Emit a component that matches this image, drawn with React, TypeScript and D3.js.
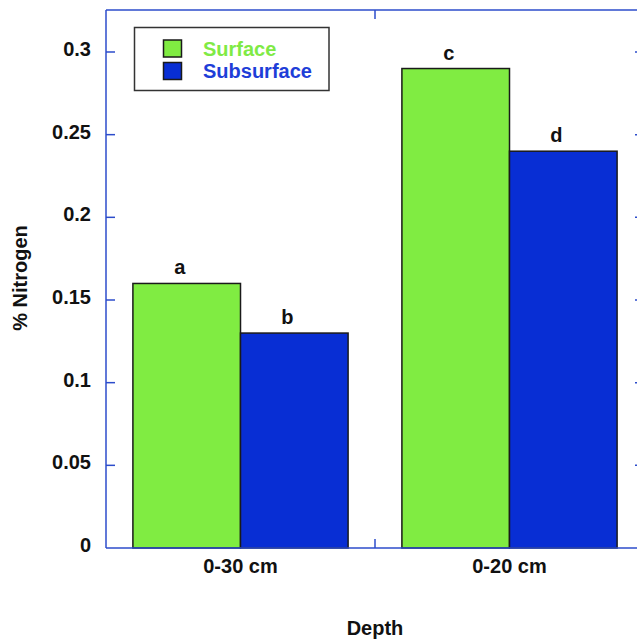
import React from "react";
import * as d3 from "d3";

const categories = ["0-30 cm", "0-20 cm"];
const seriesNames = ["Surface", "Subsurface"];
const surfaceValues = [0.16, 0.29];
const subsurfaceValues = [0.13, 0.24];
const barLetters = [["a", "c"], ["b", "d"]];
const yTicks = [0, 0.05, 0.1, 0.15, 0.2, 0.25, 0.3];
const yTickLabels = ["0", "0.05", "0.1", "0.15", "0.2", "0.25", "0.3"];

const W = 637;
const H = 641;
const margin = { left: 106, top: 10, right: 644, bottom: 548 };
const fills = ["#80EC42", "#082ED4"];
const textFills = ["#7FEA45", "#1E3ED8"];
const axisColor = "#2C4CCB";
const font = "'Liberation Sans', Arial, Helvetica, sans-serif";

export default function App() {
  const series = [surfaceValues, subsurfaceValues];
  const x0 = d3.scaleBand<string>().domain(categories).range([margin.left, margin.right]).paddingInner(0).paddingOuter(0);
  const x1 = d3.scaleBand<string>().domain(seriesNames).range([0, x0.bandwidth()]).paddingOuter(0.25).paddingInner(0);
  const y = d3.scaleLinear().domain([0, 0.3254]).range([margin.bottom, margin.top]);
  const tickLen = 9;

  return (
    <svg width={W} height={H} style={{ position: "absolute", left: 0, top: 0 }} fontFamily={font}>
      {/* bars */}
      {categories.map((cat, ci) =>
        seriesNames.map((s, si) => {
          const v = series[si][ci];
          const bx = (x0(cat) as number) + (x1(s) as number);
          const bw = x1.bandwidth();
          return (
            <g key={cat + s}>
              <rect x={bx} y={y(v)} width={bw} height={y(0) - y(v)} fill={fills[si]} stroke="#1a1a1a" strokeWidth={1.5} />
              <text x={bx + bw / 2 - 7} y={y(v) - 9} textAnchor="middle" fontSize={20} fontWeight="bold" fill="#111">
                {barLetters[si][ci]}
              </text>
            </g>
          );
        })
      )}
      {/* frame */}
      <line x1={margin.left} x2={margin.left} y1={margin.top} y2={margin.bottom} stroke={axisColor} strokeWidth={1.5} />
      <line x1={margin.left} x2={margin.right} y1={margin.top} y2={margin.top} stroke={axisColor} strokeWidth={1.5} />
      <line x1={margin.left} x2={margin.right} y1={margin.bottom} y2={margin.bottom} stroke={axisColor} strokeWidth={1.5} />
      <line x1={margin.right} x2={margin.right} y1={margin.top} y2={margin.bottom} stroke={axisColor} strokeWidth={1.5} />
      {/* y ticks */}
      {yTicks.map((t, i) => (
        <g key={t}>
          {t > 0 && (
            <>
              <line x1={margin.left} x2={margin.left + tickLen} y1={y(t)} y2={y(t)} stroke={axisColor} strokeWidth={1.5} />
              <line x1={margin.right - tickLen} x2={margin.right} y1={y(t)} y2={y(t)} stroke={axisColor} strokeWidth={1.5} />
            </>
          )}
          <text x={91} y={y(t) + 4} textAnchor="end" fontSize={20} fontWeight="bold" fill="#111">
            {yTickLabels[i]}
          </text>
        </g>
      ))}
      {/* x category separator ticks */}
      {categories.slice(1).map((cat) => {
        const xx = x0(cat) as number;
        return (
          <g key={cat}>
            <line x1={xx} x2={xx} y1={margin.bottom} y2={margin.bottom - tickLen} stroke={axisColor} strokeWidth={1.5} />
            <line x1={xx} x2={xx} y1={margin.top} y2={margin.top + tickLen} stroke={axisColor} strokeWidth={1.5} />
          </g>
        );
      })}
      {categories.map((cat) => (
        <text key={cat} x={(x0(cat) as number) + x0.bandwidth() / 2} y={573} textAnchor="middle" fontSize={20} fontWeight="bold" fill="#111">
          {cat}
        </text>
      ))}
      {/* axis titles */}
      <text x={375} y={635} textAnchor="middle" fontSize={20} fontWeight="bold" fill="#111">Depth</text>
      <text transform="translate(27,278) rotate(-90)" textAnchor="middle" fontSize={20} fontWeight="bold" fill="#111">% Nitrogen</text>
      {/* legend */}
      <rect x={134.5} y={27.5} width={194.5} height={63} fill="#fff" stroke="#333" strokeWidth={1.5} />
      {seriesNames.map((s, i) => (
        <g key={s}>
          <rect x={163.5} y={40 + i * 22.5} width={18} height={17} fill={fills[i]} stroke="#1a1a1a" strokeWidth={1.5} />
          <text x={203} y={55.5 + i * 22.5} fontSize={20} fontWeight="bold" fill={textFills[i]}>{s}</text>
        </g>
      ))}
    </svg>
  );
}
